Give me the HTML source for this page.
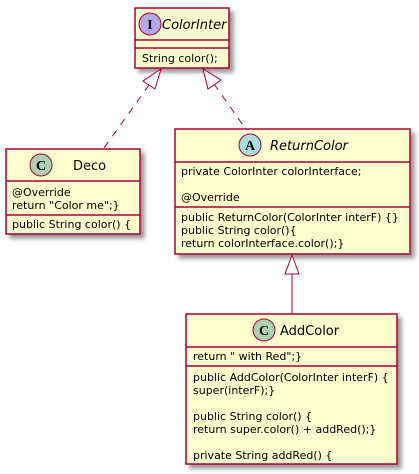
<!DOCTYPE html>
<html><head><meta charset="utf-8"><style>
html,body{margin:0;padding:0;background:#fff;}
svg{display:block;}
text{font-family:"DejaVu Sans","Liberation Sans",sans-serif;font-size:11px;fill:#000;}
.t{font-size:13px;}
</style></head><body>
<svg width="419" height="474" viewBox="0 0 419 474" xmlns="http://www.w3.org/2000/svg">
<defs><filter id="sh" x="-10%" y="-10%" width="130%" height="130%"><feGaussianBlur in="SourceAlpha" stdDeviation="2"/><feOffset dx="4" dy="4"/><feComponentTransfer><feFuncA type="linear" slope="0.4"/></feComponentTransfer><feMerge><feMergeNode/><feMergeNode in="SourceGraphic"/></feMerge></filter></defs>
<g stroke="#A80036" stroke-width="1.5" fill="#FEFECE">
<rect x="135" y="8" width="94" height="60" filter="url(#sh)"/>
<line x1="135" y1="40" x2="229" y2="40"/><line x1="135" y1="48" x2="229" y2="48"/>
<rect x="6" y="149" width="134" height="85" filter="url(#sh)"/>
<line x1="6" y1="181" x2="140" y2="181"/><line x1="6" y1="215" x2="140" y2="215"/>
<rect x="175" y="129" width="235" height="125" filter="url(#sh)"/>
<line x1="175" y1="162" x2="410" y2="162"/><line x1="175" y1="207" x2="410" y2="207"/>
<rect x="186" y="314" width="211" height="150" filter="url(#sh)"/>
<line x1="186" y1="347" x2="397" y2="347"/><line x1="186" y1="366" x2="397" y2="366"/>
</g>
<g stroke="#A80036" stroke-width="1">
<circle cx="150" cy="24" r="11" fill="#B4A7E5"/>
<circle cx="41" cy="165" r="11" fill="#ADD1B2"/>
<circle cx="250" cy="145" r="11" fill="#A9DCDF"/>
<circle cx="264" cy="330" r="11" fill="#ADD1B2"/>
</g>
<g text-anchor="middle">
<text x="150" y="29" style="font-size:14px;font-weight:bold;font-family:'Liberation Serif',serif">I</text>
<text x="41" y="170" style="font-size:14px;font-weight:bold;font-family:'Liberation Serif',serif">C</text>
<text x="250" y="150" style="font-size:14px;font-weight:bold;font-family:'Liberation Serif',serif">A</text>
<text x="264" y="335" style="font-size:14px;font-weight:bold;font-family:'Liberation Serif',serif">C</text>
</g>
<text class="t" x="162" y="29" font-style="italic">ColorInter</text>
<text class="t" x="73" y="170">Deco</text>
<text class="t" x="270" y="150" font-style="italic">ReturnColor</text>
<text class="t" x="280" y="335">AddColor</text>
<text x="142" y="62">String color();</text>
<text x="12" y="196">@Override</text>
<text x="12" y="209">return "Color me";}</text>
<text x="12" y="228">public String color() {</text>
<text x="181" y="175">private ColorInter colorInterface;</text>
<text x="181" y="201">@Override</text>
<text x="181" y="221">public ReturnColor(ColorInter interF) {}</text>
<text x="181" y="234">public String color(){</text>
<text x="181" y="247">return colorInterface.color();}</text>
<text x="193" y="360">return " with Red";}</text>
<text x="193" y="381">public AddColor(ColorInter interF) {</text>
<text x="193" y="394">super(interF);}</text>
<text x="193" y="420">public String color() {</text>
<text x="193" y="433">return super.color() + addRed();}</text>
<text x="193" y="459">private String addRed() {</text>
<g stroke="#A80036" stroke-width="1" fill="none">
<line x1="149" y1="85" x2="104" y2="148" stroke-dasharray="7,7"/>
<line x1="214" y1="84" x2="245" y2="128" stroke-dasharray="7,7"/>
<line x1="292" y1="274" x2="292" y2="314"/>
<polygon points="161,69 143,81 155,89" fill="#fff"/>
<polygon points="203,69 208,89 221,80" fill="#fff"/>
<polygon points="292,255 285,274 299,274" fill="#fff"/>
</g>
</svg>
</body></html>
